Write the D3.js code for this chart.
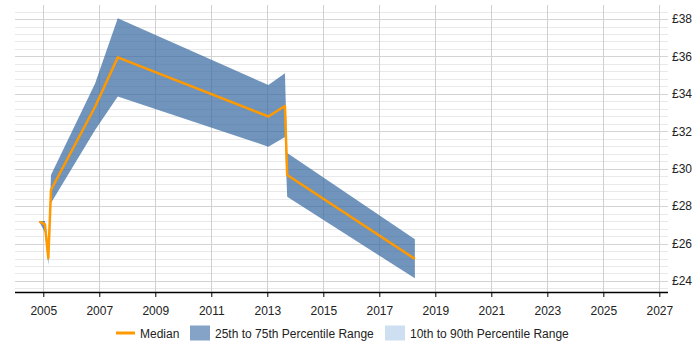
<!DOCTYPE html>
<html>
<head>
<meta charset="utf-8">
<script src="https://cdn.jsdelivr.net/npm/d3@7"></script>
<style>
  body { margin: 0; background: #fff; }
  svg { display: block; font-family: "Liberation Sans", Arial, sans-serif; }
</style>
</head>
<body>
<div id="chart"></div>
<script>
// Data (decimal years, £ per hour)
const years  = [2004.86, 2005.06, 2005.18, 2005.275, 2006.85, 2007.66, 2013.04, 2013.63, 2013.71, 2018.27];
const median = [27.17, 27.03, 25.21, 28.86, 33.31, 35.95, 32.79, 33.35, 29.66, 25.18];
const p25    = [27.15, 26.6, 24.85, 28.17, 32.07, 33.86, 31.18, 31.69, 28.50, 24.14];
const p75    = [27.21, 27.2, 25.39, 29.66, 34.56, 38.04, 34.47, 35.10, 30.84, 26.23];
const xTicks = [2005, 2007, 2009, 2011, 2013, 2015, 2017, 2019, 2021, 2023, 2025, 2027];
const yTicks = [24, 26, 28, 30, 32, 34, 36, 38];

const data = years.map((t, i) => ({ t, med: median[i], lo: p25[i], hi: p75[i] }));

const W = 700, H = 350;
const plot = { left: 15, right: 668, top: 5, bottom: 292 };

const x = d3.scaleLinear().domain([2003.99, 2027.31]).range([plot.left, plot.right]);
const y = d3.scaleLinear().domain([23.41, 38.75]).range([plot.bottom, plot.top]);

const svg = d3.select("#chart").append("svg")
    .attr("width", W)
    .attr("height", H);

// minor horizontal gridlines (every 0.4)
const minor = d3.range(0, 38).map(i => 23.6 + i * 0.4)
    .filter(v => v < 38.7 && Math.abs(v / 2 - Math.round(v / 2)) > 0.01);
svg.append("g").selectAll("line").data(minor).join("line")
    .attr("x1", plot.left).attr("x2", plot.right)
    .attr("y1", d => Math.round(y(d)) + 0.5).attr("y2", d => Math.round(y(d)) + 0.5)
    .attr("stroke", "#e9e9e9");

// major horizontal gridlines
svg.append("g").selectAll("line").data(yTicks).join("line")
    .attr("x1", plot.left).attr("x2", plot.right)
    .attr("y1", d => Math.round(y(d)) + 0.5).attr("y2", d => Math.round(y(d)) + 0.5)
    .attr("stroke", "#d4d4d4");

// vertical gridlines
svg.append("g").selectAll("line").data(xTicks).join("line")
    .attr("x1", d => Math.round(x(d)) + 0.5).attr("x2", d => Math.round(x(d)) + 0.5)
    .attr("y1", plot.top).attr("y2", plot.bottom)
    .attr("stroke", "#d0d0d0");

// 25th to 75th band
svg.append("path")
    .datum(data)
    .attr("fill", "rgb(51,102,160)")
    .attr("fill-opacity", 0.7)
    .attr("d", d3.area().x(d => x(d.t)).y0(d => y(d.lo)).y1(d => y(d.hi)));

// median line
svg.append("path")
    .datum(data)
    .attr("fill", "none")
    .attr("stroke", "#ff9900")
    .attr("stroke-width", 2.5)
    .attr("stroke-linejoin", "round")
    .attr("d", d3.line().x(d => x(d.t)).y(d => y(d.med)));

// x axis
const xAxis = svg.append("g")
    .attr("transform", `translate(0,${plot.bottom})`)
    .call(d3.axisBottom(x).tickValues(xTicks).tickFormat(d3.format("d")).tickSize(5).tickSizeOuter(0));
xAxis.select(".domain").attr("stroke", "#000").attr("stroke-width", 1.5)
    .attr("d", `M${plot.left},0.5H${plot.right}`);
xAxis.selectAll(".tick line").attr("stroke", "#000");
xAxis.selectAll(".tick text")
    .attr("fill", "#222")
    .style("font-size", "12px")
    .attr("dy", "1.25em");

// y axis labels on the right
const yAxis = svg.append("g")
    .attr("transform", `translate(${plot.right},0)`)
    .call(d3.axisRight(y).tickValues(yTicks).tickFormat(d => "£" + d).tickSize(0).tickPadding(4));
yAxis.select(".domain").remove();
yAxis.selectAll(".tick text").attr("fill", "#222").style("font-size", "12px");

// legend
const legend = svg.append("g").attr("transform", "translate(0,333)");
legend.append("line")
    .attr("x1", 116).attr("x2", 135).attr("y1", 0).attr("y2", 0)
    .attr("stroke", "#ff9900").attr("stroke-width", 3);
legend.append("text").attr("x", 140).attr("y", 4.5).style("font-size", "12px").attr("fill", "#222").text("Median");
legend.append("rect").attr("x", 190).attr("y", -7.5).attr("width", 20).attr("height", 15)
    .attr("fill", "rgb(51,102,160)").attr("fill-opacity", 0.6);
legend.append("text").attr("x", 215).attr("y", 4.5).style("font-size", "12px").attr("fill", "#222").text("25th to 75th Percentile Range");
legend.append("rect").attr("x", 385).attr("y", -7.5).attr("width", 20).attr("height", 15)
    .attr("fill", "#cddff0");
legend.append("text").attr("x", 410).attr("y", 4.5).style("font-size", "12px").attr("fill", "#222").text("10th to 90th Percentile Range");
</script>
</body>
</html>
